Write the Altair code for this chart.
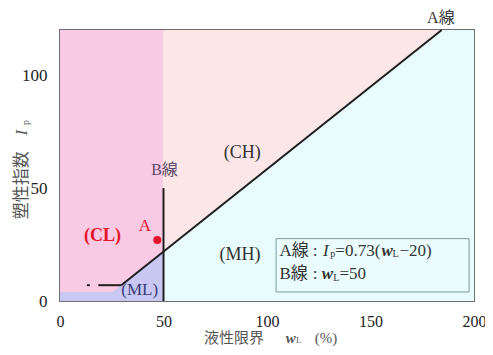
import altair as alt
import pandas as pd

FONT = "Liberation Serif, Noto Sans CJK JP"

# ---- data ----
x_ticks = [0, 50, 100, 150, 200]
y_ticks = [0, 50, 100]

# background regions (rects): CL side and CH side
rect_x1 = [0, 50]
rect_x2 = [50, 200]
rect_y1 = [0, 0]
rect_y2 = [120, 120]
rect_colors = ["#f9cae4", "#fde6e8"]

# MH region: below A line, right of B line
mh_wl = [50, 184.4, 200]
mh_ip = [21.9, 120, 120]
# ML region: below A line / Ip=4, left of B line
ml_wl = [0, 25.5, 50]
ml_ip = [4, 4, 21.9]

# A line
a_wl = [29.6, 184.4]
a_ip = [7, 120]
a_flat_wl = [18.5, 29.6]
a_flat_ip = [7, 7]
a_dot_wl = [13.0, 14.4]
a_dot_ip = [7, 7]
# B line
b_wl = [50, 50]
b_ip = [0, 50]
# sample point A
pt_wl = [47]
pt_ip = [27]

# legend box
box_x1, box_x2 = [104.4], [197.6]
box_y1, box_y2 = [4.0], [27.6]

xs = alt.Scale(domain=[0, 200], nice=False, zero=False)
ys = alt.Scale(domain=[0, 120], nice=False, zero=False)

xaxis = alt.Axis(values=x_ticks, ticks=False, tickSize=0, grid=False, domain=False,
                 labelFont=FONT, labelFontSize=16, labelColor="#222",
                 labelPadding=12, labelFlush=False, labelOverlap=False, title=None)
yaxis = alt.Axis(values=y_ticks, ticks=False, tickSize=0, grid=False, domain=False,
                 labelFont=FONT, labelFontSize=17, labelColor="#222",
                 labelPadding=13, labelFlush=False, labelOverlap=False, title=None)


def X(f):
    return alt.X(f, type="quantitative", scale=xs, axis=xaxis, title=None)


def Y(f):
    return alt.Y(f, type="quantitative", scale=ys, axis=yaxis, title=None)


rects = pd.DataFrame({"x1": rect_x1, "x2": rect_x2, "y1": rect_y1, "y2": rect_y2, "c": rect_colors})
bg = alt.Chart(rects).mark_rect(strokeWidth=0).encode(
    x=X("x1"), x2="x2", y=Y("y1"), y2="y2",
    fill=alt.Fill("c:N", scale=None))

mh = alt.Chart(pd.DataFrame({"wl": mh_wl, "ip": mh_ip, "b": [0] * 3})).mark_area(
    color="#e9fcfd", opacity=1).encode(x=X("wl"), y=Y("ip"), y2="b")
ml = alt.Chart(pd.DataFrame({"wl": ml_wl, "ip": ml_ip, "b": [0] * 3})).mark_area(
    color="#c8c8f3", opacity=1).encode(x=X("wl"), y=Y("ip"), y2="b")


def line(wl, ip):
    return alt.Chart(pd.DataFrame({"wl": wl, "ip": ip})).mark_line(
        color="#1e1e1e", strokeWidth=2).encode(x=X("wl"), y=Y("ip"))


aline = line(a_wl, a_ip)
aflat = line(a_flat_wl, a_flat_ip)
adot = line(a_dot_wl, a_dot_ip)
bline = line(b_wl, b_ip)

pt = alt.Chart(pd.DataFrame({"wl": pt_wl, "ip": pt_ip})).mark_point(
    filled=True, color="#e3142b", size=65, opacity=1).encode(x=X("wl"), y=Y("ip"))

box = alt.Chart(pd.DataFrame({"x1": box_x1, "x2": box_x2, "y1": box_y1, "y2": box_y2})).mark_rect(
    fill="#eafcfd", stroke="#7d9b9d", strokeWidth=1).encode(x=X("x1"), x2="x2", y=Y("y1"), y2="y2")

# text pieces: (text, wl, ip, color, size, style, weight, align, angle)
labels = [
    ("(CH)", 88, 65.5, "#333333", 18, "normal", "normal", "center", 0),
    ("(MH)", 87, 20.5, "#333333", 18, "normal", "normal", "center", 0),
    ("(CL)", 20.5, 29, "#e3142b", 18, "normal", "bold", "center", 0),
    ("(ML)", 38.5, 5, "#3a3a78", 17, "normal", "normal", "center", 0),
    ("A", 41, 33, "#e3142b", 17, "normal", "normal", "center", 0),
    ("B線", 50.5, 58, "#5d4a68", 16, "normal", "normal", "center", 0),
    ("A線", 184, 125.3, "#3a3a3a", 16, "normal", "normal", "center", 0),
    # legend line 1
    ("A線", 106.0, 22.3, "#333333", 17, "normal", "normal", "left", 0),
    (":", 123.3, 22.3, "#333333", 17, "normal", "normal", "center", 0),
    ("I", 127.0, 22.3, "#333333", 17, "italic", "normal", "left", 0),
    ("p", 130.5, 20.6, "#333333", 10, "normal", "normal", "left", 0),
    ("=0.73(", 133.0, 22.3, "#333333", 17, "normal", "normal", "left", 0),
    ("w", 155.3, 22.3, "#333333", 17, "italic", "bold", "left", 0),
    ("L", 160.6, 20.6, "#333333", 10, "normal", "normal", "left", 0),
    ("−20)", 164.0, 22.3, "#333333", 17, "normal", "normal", "left", 0),
    # legend line 2
    ("B線", 106.0, 11.9, "#333333", 17, "normal", "normal", "left", 0),
    (":", 123.3, 11.9, "#333333", 17, "normal", "normal", "center", 0),
    ("w", 126.5, 11.9, "#333333", 17, "italic", "bold", "left", 0),
    ("L", 132.0, 10.3, "#333333", 10, "normal", "normal", "left", 0),
    ("=50", 135.0, 11.9, "#333333", 17, "normal", "normal", "left", 0),
    # x title
    ("液性限界", 84, -16.2, "#555555", 15, "normal", "normal", "center", 0),
    ("w", 111.5, -16.4, "#555555", 15, "italic", "bold", "center", 0),
    ("L", 115.3, -17.4, "#555555", 9, "normal", "normal", "center", 0),
    ("(%)", 128.5, -16.2, "#555555", 15, "normal", "normal", "center", 0),
    # y title (rotated)
    ("塑性指数", -18.2, 51.3, "#555555", 17, "normal", "normal", "center", 270),
    ("I", -18.2, 74.5, "#555555", 17, "italic", "normal", "center", 270),
    ("p", -16.6, 79.0, "#555555", 10, "normal", "normal", "center", 270),
]

text_layers = []
for (t, wl, ip, col, sz, st, wt, al, ang) in labels:
    kw = dict(font=FONT, fontSize=sz, color=col, fontStyle=st, fontWeight=wt,
              align=al, baseline="middle")
    if ang:
        kw["angle"] = ang
    text_layers.append(
        alt.Chart(pd.DataFrame({"wl": [wl], "ip": [ip], "t": [t]})).mark_text(**kw).encode(
            x=X("wl"), y=Y("ip"), text="t:N"))

chart = alt.layer(bg, mh, ml, aline, aflat, adot, bline, pt, box, *text_layers).properties(
    width=414, height=271,
    padding={"left": 52, "top": 22, "right": 11, "bottom": 46},
    autosize=alt.AutoSizeParams(type="none"),
    background="white",
).configure_view(stroke="#6e6e6e", strokeWidth=2)

chart.save("out.html", embed_options={"renderer": "svg", "actions": False})
